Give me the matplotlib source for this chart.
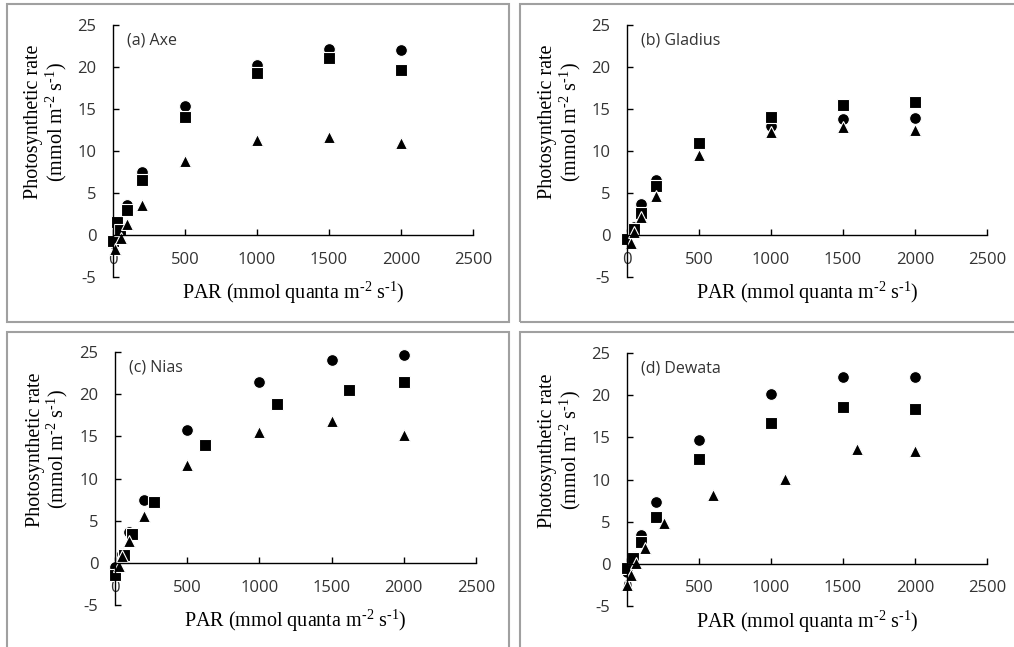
import matplotlib
matplotlib.use("Agg")
import matplotlib.pyplot as plt
from matplotlib.patches import Rectangle

sans = "Open Sans"
serif = "Liberation Serif"
plt.rcParams["mathtext.fontset"] = "custom"
plt.rcParams["mathtext.rm"] = serif
plt.rcParams["mathtext.it"] = serif + ":italic"
plt.rcParams["mathtext.default"] = "regular"

# panel names
panel_titles = ["(a) Axe", "(b) Gladius", "(c) Nias", "(d) Dewata"]

# (a) Axe
a_circ_x = [0, 50, 100, 200, 500, 1000, 1500, 2000]
a_circ_y = [-1.0, 1.0, 3.6, 7.5, 15.3, 20.2, 22.2, 22.0]
a_sq_x = [0, 25, 50, 100, 200, 500, 1000, 1500, 2000]
a_sq_y = [-0.7, 1.5, 0.6, 3.0, 6.6, 14.1, 19.3, 21.1, 19.7]
a_tri_x = [15, 55, 100, 200, 500, 1000, 1500, 2000]
a_tri_y = [-1.7, -0.3, 1.3, 3.6, 8.8, 11.3, 11.7, 11.0]

# (b) Gladius
b_circ_x = [0, 50, 100, 200, 500, 1000, 1500, 2000]
b_circ_y = [-0.4, 1.0, 3.7, 6.5, 10.9, 13.0, 13.8, 13.9]
b_sq_x = [0, 50, 100, 200, 500, 1000, 1500, 2000]
b_sq_y = [-0.5, 0.7, 2.6, 5.8, 11.0, 14.0, 15.5, 15.8]
b_tri_x = [25, 50, 100, 200, 500, 1000, 1500, 2000]
b_tri_y = [-1.0, 0.3, 2.2, 4.6, 9.5, 12.3, 12.9, 12.5]

# (c) Nias
c_circ_x = [0, 50, 100, 200, 500, 1000, 1500, 2000]
c_circ_y = [-0.5, 1.0, 3.7, 7.4, 15.7, 21.4, 24.1, 24.6]
c_sq_x = [0, 60, 120, 270, 620, 1120, 1620, 2000]
c_sq_y = [-1.5, 0.9, 3.4, 7.2, 14.0, 18.8, 20.5, 21.5]
c_tri_x = [25, 50, 100, 200, 500, 1000, 1500, 2000]
c_tri_y = [-0.4, 0.8, 2.6, 5.6, 11.6, 15.5, 16.8, 15.2]

# (d) Dewata
d_circ_x = [0, 50, 100, 200, 500, 1000, 1500, 2000]
d_circ_y = [-1.0, 0.8, 3.4, 7.3, 14.7, 20.1, 22.2, 22.2]
d_sq_x = [0, 40, 100, 200, 500, 1000, 1500, 2000]
d_sq_y = [-0.5, 0.7, 2.6, 5.5, 12.4, 16.7, 18.6, 18.4]
d_tri_x = [0, 30, 65, 125, 260, 600, 1100, 1600, 2000]
d_tri_y = [-2.5, -1.3, 0.1, 1.9, 4.8, 8.2, 10.1, 13.6, 13.4]

x_ticks = [0, 500, 1000, 1500, 2000, 2500]
y_ticks = [-5, 0, 5, 10, 15, 20, 25]

panels = [
    (a_circ_x, a_circ_y, a_sq_x, a_sq_y, a_tri_x, a_tri_y),
    (b_circ_x, b_circ_y, b_sq_x, b_sq_y, b_tri_x, b_tri_y),
    (c_circ_x, c_circ_y, c_sq_x, c_sq_y, c_tri_x, c_tri_y),
    (d_circ_x, d_circ_y, d_sq_x, d_sq_y, d_tri_x, d_tri_y),
]

W, H = 1014, 647
fig = plt.figure(figsize=(W / 100, H / 100), dpi=100)

# axes boxes in pixels: left, top (y=25), right (x=2500), bottom (y=-5)
ax_px = [(113, 25, 473, 277), (627, 25, 987, 277),
         (115, 352, 476, 605), (627, 353, 987, 606)]
# grey frames round each panel
frames_px = [(7, 4, 509, 322), (520, 4, 1030, 322),
             (7, 332, 509, 660), (520, 332, 1030, 660)]

tick_col = "#333333"
ylab = "Photosynthetic rate\n(mmol m$^{\\text{-2}}$ s$^{\\text{-1}}$)"
xlab = "PAR (mmol quanta m$^{\\text{-2}}$ s$^{\\text{-1}}$)"

for (fx0, fy0, fx1, fy1) in frames_px:
    fig.add_artist(Rectangle((fx0 / W, 1 - fy1 / H), (fx1 - fx0) / W, (fy1 - fy0) / H,
                             transform=fig.transFigure, fill=False,
                             edgecolor="#a0a0a0", linewidth=1.5))

for i, (cx, cy, sx, sy, tx, ty) in enumerate(panels):
    l, t, r, b = ax_px[i]
    ax = fig.add_axes([l / W, 1 - b / H, (r - l) / W, (b - t) / H])
    ax.set_xlim(0, 2500)
    ax.set_ylim(-5, 25)
    ax.patch.set_alpha(0)

    mk = dict(linestyle="none", markerfacecolor="black", markeredgecolor="white",
              markeredgewidth=0.8, clip_on=False)
    ax.plot(cx, cy, marker="o", markersize=8.5, **mk)
    ax.plot(sx, sy, marker="s", markersize=8, **mk)
    ax.plot(tx, ty, marker="^", markersize=8.5, **mk)

    ax.spines["top"].set_visible(False)
    ax.spines["right"].set_visible(False)
    ax.spines["bottom"].set_position(("data", 0))
    for s in ("left", "bottom"):
        ax.spines[s].set_linewidth(1.0)
        ax.spines[s].set_color("black")

    ax.set_xticks(x_ticks)
    ax.set_yticks(y_ticks)
    ax.set_xticklabels([str(v) for v in x_ticks])
    ax.set_yticklabels([str(v) for v in y_ticks])
    ax.tick_params(axis="x", direction="in", length=4, width=1.0, pad=12,
                   labelsize=12, labelcolor=tick_col)
    ax.tick_params(axis="y", direction="in", length=4, width=1.0, pad=12,
                   labelsize=12, labelcolor=tick_col)
    for lab in ax.get_xticklabels() + ax.get_yticklabels():
        lab.set_fontfamily(sans)

    ax.text(0.038, 0.94, panel_titles[i], transform=ax.transAxes, ha="left",
            va="center", fontsize=11.5, family=sans, color=tick_col)

    ax.text(-0.185, 0.615, ylab, transform=ax.transAxes, rotation=90,
            ha="center", va="center", multialignment="center",
            fontsize=14.5, family=serif, linespacing=1.0)
    ax.text(0.5, -0.063, xlab, transform=ax.transAxes, ha="center", va="center",
            fontsize=14.5, family=serif)

fig.savefig("out.png", dpi=100)
